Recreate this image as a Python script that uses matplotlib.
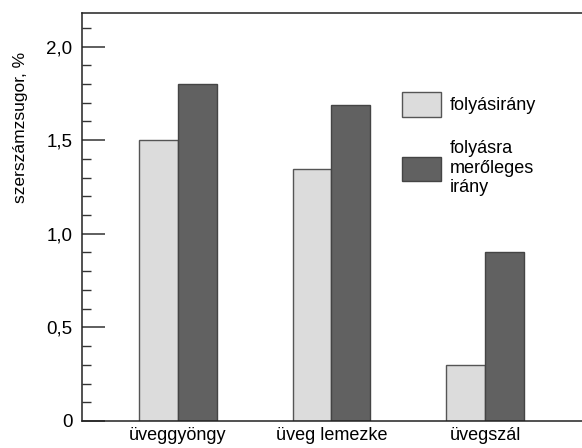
# shrinkage bar chart
import matplotlib
matplotlib.use('Agg')
import matplotlib.pyplot as plt
import numpy as np

plt.rcParams['font.family'] = ['Liberation Sans', 'DejaVu Sans']

# data
categories = ['üveggyöngy', 'üveg lemezke', 'üvegszál']
flow_dir = [1.5, 1.345, 0.30]
perp_dir = [1.80, 1.69, 0.90]
series_labels = ['folyásirány', 'folyásra\nmerőleges\nirány']
ytick_vals = [0, 0.5, 1.0, 1.5, 2.0]
ytick_labels = ['0', '0,5', '1,0', '1,5', '2,0']

fig = plt.figure(figsize=(5.82, 4.48), dpi=100)
ax = fig.add_axes([0.141, 0.0603, 0.859, 0.911])

x = np.arange(len(categories))
w = 0.254
b1 = ax.bar(x - w/2, flow_dir, w, color='#dcdcdc', edgecolor='#555555', linewidth=1.0, label=series_labels[0])
b2 = ax.bar(x + w/2, perp_dir, w, color='#616161', edgecolor='#444444', linewidth=1.0, label=series_labels[1])

# axes
ax.set_xlim(-0.625, 2.632)
ax.set_ylim(0, 2.18)
ax.spines['right'].set_visible(False)
for s in ['left', 'bottom', 'top']:
    ax.spines[s].set_linewidth(1.1)
    ax.spines[s].set_color('#222222')

ax.set_xticks(x)
ax.set_xticklabels(categories, fontsize=13)
ax.tick_params(axis='x', length=0, pad=4)

ax.set_yticks(ytick_vals)
ax.set_yticklabels(ytick_labels, fontsize=13.5)
ax.set_yticks(np.arange(0, 2.15, 0.1), minor=True)
ax.tick_params(axis='y', which='major', direction='in', length=16.5, width=1.1, pad=7, color='#333333')
ax.tick_params(axis='y', which='minor', direction='in', length=6.5, width=1.0, color='#333333')

ax.set_ylabel('szerszámzsugor, %', fontsize=12.5)
ax.yaxis.set_label_coords(-0.108, 0.72)

# legend
leg = ax.legend(loc='upper left', bbox_to_anchor=(0.607, 0.845), frameon=False,
                fontsize=13, handlelength=2.2, handleheight=1.7,
                handletextpad=0.45, labelspacing=1.3)

plt.savefig('out.png', dpi=100)
